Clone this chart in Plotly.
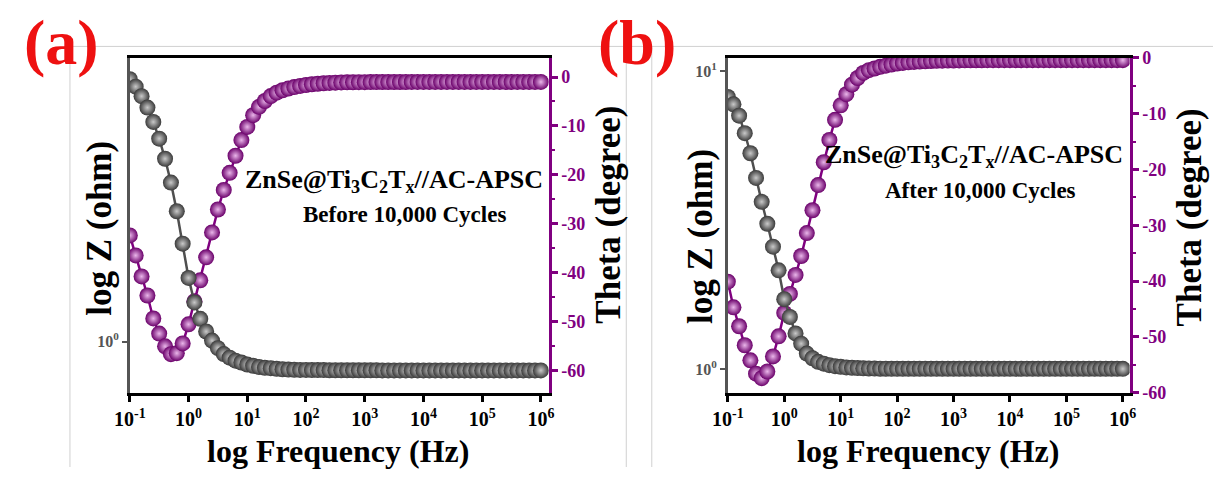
import plotly.graph_objects as go

# ---------------- data ----------------
freq = [0.1, 0.1259, 0.1585, 0.1995, 0.2512, 0.3162, 0.3981, 0.5012, 0.631, 0.7943,
        1.0, 1.259, 1.585, 1.995, 2.512, 3.162, 3.981, 5.012, 6.31, 7.943,
        10, 12.59, 15.85, 19.95, 25.12, 31.62, 39.81, 50.12, 63.1, 79.43,
        100, 125.9, 158.5, 199.5, 251.2, 316.2, 398.1, 501.2, 631, 794.3,
        1000, 1259, 1585, 1995, 2512, 3162, 3981, 5012, 6310, 7943,
        10000, 12590, 15850, 19950, 25120, 31620, 39810, 50120, 63100, 79430,
        100000, 125900, 158500, 199500, 251200, 316200, 398100, 501200, 631000, 794300,
        1000000]

z_before = [7.50, 7.08, 6.58, 6.03, 5.40, 4.75, 4.07, 3.39, 2.72, 2.12,
            1.63, 1.35, 1.19, 1.08, 1.007, 0.950, 0.908, 0.883, 0.863, 0.851,
            0.838, 0.830, 0.822, 0.817, 0.815, 0.811, 0.808, 0.806, 0.805, 0.804,
            0.804, 0.803, 0.803, 0.803, 0.802, 0.802, 0.802, 0.802, 0.802, 0.802,
            0.802, 0.802, 0.802, 0.801, 0.801, 0.801, 0.801, 0.801, 0.801, 0.801,
            0.801, 0.801, 0.801, 0.801, 0.801, 0.801, 0.801, 0.801, 0.801, 0.801,
            0.801, 0.801, 0.801, 0.801, 0.801, 0.801, 0.801, 0.801, 0.801, 0.801,
            0.801]

theta_before = [-32.4, -36.5, -40.8, -44.7, -49.4, -52.5, -55.1, -56.7, -56.5, -54.5,
                -50.6, -45.9, -41.6, -36.9, -31.8, -27.1, -23.1, -19.6, -16.1, -12.9,
                -10.2, -7.8, -6.1, -4.9, -3.9, -3.2, -2.7, -2.35, -2.06, -1.82,
                -1.63, -1.47, -1.37, -1.27, -1.20, -1.14, -1.10, -1.08, -1.06, -1.05,
                -1.04, -1.03, -1.03, -1.02, -1.02, -1.01, -1.01, -1.01, -1.00, -1.00,
                -1.00, -1.00, -1.00, -1.00, -1.00, -1.00, -1.00, -1.00, -1.00, -1.00,
                -1.00, -1.00, -1.00, -1.00, -1.00, -1.00, -1.00, -1.00, -1.00, -1.00,
                -1.00]

z_after = [8.20, 7.75, 7.10, 6.20, 5.31, 4.39, 3.65, 3.08, 2.58, 2.15,
           1.72, 1.50, 1.32, 1.22, 1.13, 1.09, 1.06, 1.045, 1.033, 1.025,
           1.020, 1.015, 1.012, 1.010, 1.008, 1.007, 1.006, 1.005, 1.005, 1.004,
           1.004, 1.004, 1.004, 1.004, 1.004, 1.004, 1.004, 1.004, 1.004, 1.004,
           1.004, 1.004, 1.004, 1.004, 1.004, 1.004, 1.004, 1.004, 1.004, 1.004,
           1.004, 1.004, 1.004, 1.004, 1.004, 1.004, 1.004, 1.004, 1.004, 1.004,
           1.004, 1.004, 1.004, 1.004, 1.004, 1.004, 1.004, 1.004, 1.004, 1.004,
           1.004]

theta_after = [-40.1, -44.7, -48.1, -51.5, -54.2, -56.6, -57.4, -56.2, -53.5, -49.9,
               -45.7, -42.3, -38.9, -35.5, -31.4, -27.3, -22.8, -18.7, -14.7, -11.1,
               -8.5, -6.5, -4.8, -3.6, -2.7, -2.2, -1.9, -1.6, -1.4, -1.2,
               -1.0, -0.9, -0.8, -0.72, -0.65, -0.60, -0.55, -0.52, -0.50, -0.48,
               -0.46, -0.45, -0.44, -0.43, -0.42, -0.42, -0.41, -0.41, -0.40, -0.40,
               -0.40, -0.40, -0.40, -0.40, -0.40, -0.40, -0.40, -0.40, -0.40, -0.40,
               -0.40, -0.40, -0.40, -0.40, -0.40, -0.40, -0.40, -0.40, -0.40, -0.40,
               -0.40]

x_tickvals = [0.1, 1, 10, 100, 1000, 10000, 100000, 1000000]
x_ticktext = ["10<sup>-1</sup>", "10<sup>0</sup>", "10<sup>1</sup>", "10<sup>2</sup>",
              "10<sup>3</sup>", "10<sup>4</sup>", "10<sup>5</sup>", "10<sup>6</sup>"]
z_tickvals = [1, 10]
z_ticktext = ["10<sup>0</sup>", "10<sup>1</sup>"]
theta_tickvals = [-60, -50, -40, -30, -20, -10, 0]
theta_ticktext = ["-60", "-50", "-40", "-30", "-20", "-10", "0"]
theta_minor = [-65, -55, -45, -35, -25, -15, -5]

panel_labels = ["(a)", "(b)"]
sample_line = "ZnSe@Ti<sub>3</sub>C<sub>2</sub>T<sub>x</sub>//AC-APSC"
state_lines = ["Before 10,000 Cycles", "After 10,000 Cycles"]

# ---------------- style ----------------
W, H = 1220, 477
FONT = "Liberation Serif"
PURPLE = "#800080"
GRAY_LINE = "#4f4f4f"
AXGRAY = "#555555"

def px(x):
    return x / W

def py(y):
    return 1 - y / H

fig = go.Figure()

def add_panel(zvals, tvals, xa, ya_theta, ya_z):
    fig.add_trace(go.Scatter(
        x=freq, y=tvals, xaxis=xa, yaxis=ya_theta, mode="lines+markers",
        line=dict(color=PURPLE, width=2.5),
        marker=dict(size=16, color="#6a006a",
                    gradient=dict(type="radial", color="#eab6ea"),
                    line=dict(width=0)),
        showlegend=False))
    fig.add_trace(go.Scatter(
        x=freq, y=zvals, xaxis=xa, yaxis=ya_z, mode="lines+markers",
        line=dict(color=GRAY_LINE, width=2.5),
        marker=dict(size=16, color="#3a3a3a",
                    gradient=dict(type="radial", color="#c9c9c9"),
                    line=dict(width=0)),
        showlegend=False))

add_panel(z_before, theta_before, "x", "y", "y2")
add_panel(z_after, theta_after, "x2", "y3", "y4")

xcommon = dict(type="log", showline=True, linecolor="black", linewidth=3, mirror=True,
               ticks="outside", ticklen=6, tickwidth=2.5, tickcolor="black",
               tickmode="array", tickvals=x_tickvals, ticktext=x_ticktext,
               tickfont=dict(family=FONT, size=20, color="black", weight="bold"),
               showgrid=False, zeroline=False)

thcommon = dict(side="right", showline=True, linecolor=PURPLE, linewidth=3,
                ticks="outside", ticklen=6, tickwidth=2.5, tickcolor=PURPLE,
                tickmode="array", tickvals=theta_tickvals, ticktext=theta_ticktext,
                tickfont=dict(family=FONT, size=18, color=PURPLE, weight="bold"),
                minor=dict(tickmode="array", tickvals=theta_minor, ticks="outside",
                           ticklen=3, tickwidth=1.5, tickcolor=PURPLE),
                showgrid=False, zeroline=False)

zcommon = dict(type="log", side="left", showline=True, linecolor=AXGRAY, linewidth=2.5,
               ticks="outside", ticklen=5, tickwidth=2, tickcolor=AXGRAY,
               tickmode="array", tickvals=z_tickvals, ticktext=z_ticktext,
               tickfont=dict(family=FONT, size=16, color=AXGRAY, weight="bold"),
               showgrid=False, zeroline=False)

fig.update_layout(
    width=W, height=H,
    margin=dict(l=0, r=0, t=0, b=0),
    paper_bgcolor="white", plot_bgcolor="white",
    showlegend=False,
    xaxis=dict(domain=[px(116), px(543)], range=[-1.0, 6.134], anchor="y", **xcommon),
    yaxis=dict(domain=[py(400), py(50)], range=[-64.7, 3.92], anchor="x", **thcommon),
    yaxis2=dict(overlaying="y", range=[-0.1725, 0.946], anchor="x", **zcommon),
    xaxis2=dict(domain=[px(725.5), px(1135)], range=[-1.0, 6.12], anchor="y3", **xcommon),
    yaxis3=dict(domain=[py(400), py(50)], range=[-60.1, 0], anchor="x2", **thcommon),
    yaxis4=dict(overlaying="y3", range=[-0.08, 1.045], anchor="x2", **zcommon),
)

ann = []
def text(x, y, s, size, color="black", angle=0):
    ann.append(dict(x=px(x), y=py(y), xref="paper", yref="paper", text=s,
                    showarrow=False, xanchor="center", yanchor="middle",
                    textangle=angle,
                    font=dict(family=FONT, size=size, color=color, weight="bold")))

text(46, 34, panel_labels[0], 64, "#ee1111")
text(633, 34, panel_labels[1], 64, "#ee1111")
text(85, 228, "log Z (ohm)", 35, angle=-90)
text(697, 236, "log Z (ohm)", 35, angle=-90)
text(603, 214, "Theta (degree)", 35, angle=-90)
text(1196, 216, "Theta (degree)", 35, angle=-90)
text(328, 460, "log Frequency (Hz)", 32)
text(930, 460, "log Frequency (Hz)", 32)
text(385, 178, sample_line, 26)
text(396, 213, state_lines[0], 23)
text(976, 152, sample_line, 26)
text(983, 188, state_lines[1], 23)
fig.update_layout(annotations=ann)

shp = []
def line(x0, y0, x1, y1):
    shp.append(dict(type="line", xref="paper", yref="paper",
                    x0=px(x0), y0=py(y0), x1=px(x1), y1=py(y1),
                    line=dict(color="#d0d0d0", width=1), layer="below"))
line(55, 38, 1220, 38)
line(55, 38, 55, 477)
line(622, 38, 622, 477)
line(648, 38, 648, 477)
fig.update_layout(shapes=shp)

fig.write_html("out.html")
